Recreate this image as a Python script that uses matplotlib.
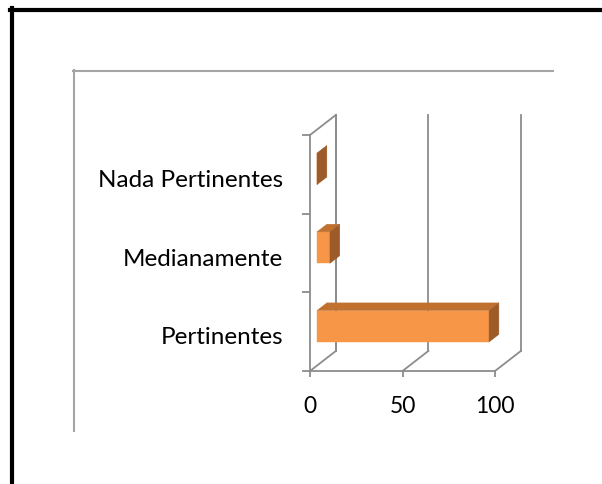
import matplotlib.pyplot as plt
from matplotlib.patches import Polygon
from matplotlib.lines import Line2D

# Datos del gráfico
categorias = ["Pertinentes", "Medianamente", "Nada Pertinentes"]
valores = [93, 7, 0]
marcas_x = [0, 50, 100]

plt.rcParams['font.family'] = ['Lato', 'DejaVu Sans']

W, H = 602, 485
fig = plt.figure(figsize=(W / 100, H / 100), dpi=100)

# 🖼️ Marco exterior (negro) y marco del gráfico (gris)
fig.add_artist(Line2D([12 / W, 12 / W], [0, 1 - 9 / H], color="black", lw=3, transform=fig.transFigure))
fig.add_artist(Line2D([10 / W, 1], [1 - 11 / H, 1 - 11 / H], color="black", lw=3, transform=fig.transFigure))
fig.add_artist(Line2D([74 / W, 74 / W], [1 - 432 / H, 1 - 71 / H], color="#A5A5A5", lw=1.5, transform=fig.transFigure))
fig.add_artist(Line2D([73 / W, 553 / W], [1 - 71.5 / H, 1 - 71.5 / H], color="#A5A5A5", lw=1.5, transform=fig.transFigure))

ax = fig.add_axes([310 / W, (H - 372) / H, 185 / W, 236 / H])
ax.set_xlim(0, 100)
ax.set_ylim(0, 3)
ax.patch.set_visible(False)

# profundidad 3D (en unidades de datos)
DX, DY = 14.0, 0.255


def pt(x, y, d):
    return (x + DX * d, y + DY * d)


gris = "#8C8C8C"
lw = 1.3

# pared izquierda: borde superior y arista trasera
ax.plot(*zip(pt(0, 3, 0), pt(0, 3, 1)), color=gris, lw=lw, clip_on=False, zorder=1)
ax.plot(*zip(pt(0, 0, 1), pt(0, 3, 1)), color=gris, lw=lw, clip_on=False, zorder=1)
# líneas de cuadrícula: suelo y pared del fondo
for v in marcas_x:
    ax.plot(*zip(pt(v, 0, 0), pt(v, 0, 1)), color=gris, lw=lw, clip_on=False, zorder=1)
    ax.plot(*zip(pt(v, 0, 1), pt(v, 3, 1)), color=gris, lw=lw, clip_on=False, zorder=1)

# 📊 Barras 3D
d0, d1 = 0.27, 0.65
alto = 0.2
for i, v in enumerate(valores):
    yc = i + 0.5
    y0, y1 = yc - alto, yc + alto
    frente = [pt(0, y0, d0), pt(v, y0, d0), pt(v, y1, d0), pt(0, y1, d0)]
    arriba = [pt(0, y1, d0), pt(v, y1, d0), pt(v, y1, d1), pt(0, y1, d1)]
    lado = [pt(v, y0, d0), pt(v, y0, d1), pt(v, y1, d1), pt(v, y1, d0)]
    for poly, col in [(frente, "#F79646"), (arriba, "#C0702F"), (lado, "#9C5B28")]:
        ax.add_patch(Polygon(poly, closed=True, facecolor=col, edgecolor=col, lw=0.3,
                             clip_on=False, zorder=3))

# ejes
for s in ["top", "right"]:
    ax.spines[s].set_visible(False)
for s in ["left", "bottom"]:
    ax.spines[s].set_color(gris)
    ax.spines[s].set_linewidth(lw)

ax.set_xticks(marcas_x)
ax.set_xticklabels([str(v) for v in marcas_x])
ax.tick_params(axis="x", length=4.5, width=lw, color=gris, pad=13, labelsize=16.5)

ax.set_yticks([0, 1, 2, 3])
ax.set_yticklabels([])
ax.tick_params(axis="y", which="major", length=5.8, width=lw, color=gris)
ax.set_yticks([0.46, 1.46, 2.46], minor=True)
ax.set_yticklabels(categorias, minor=True)
ax.tick_params(axis="y", which="minor", length=0, pad=19.4, labelsize=17.5)

fig.savefig("out.png", dpi=100)
